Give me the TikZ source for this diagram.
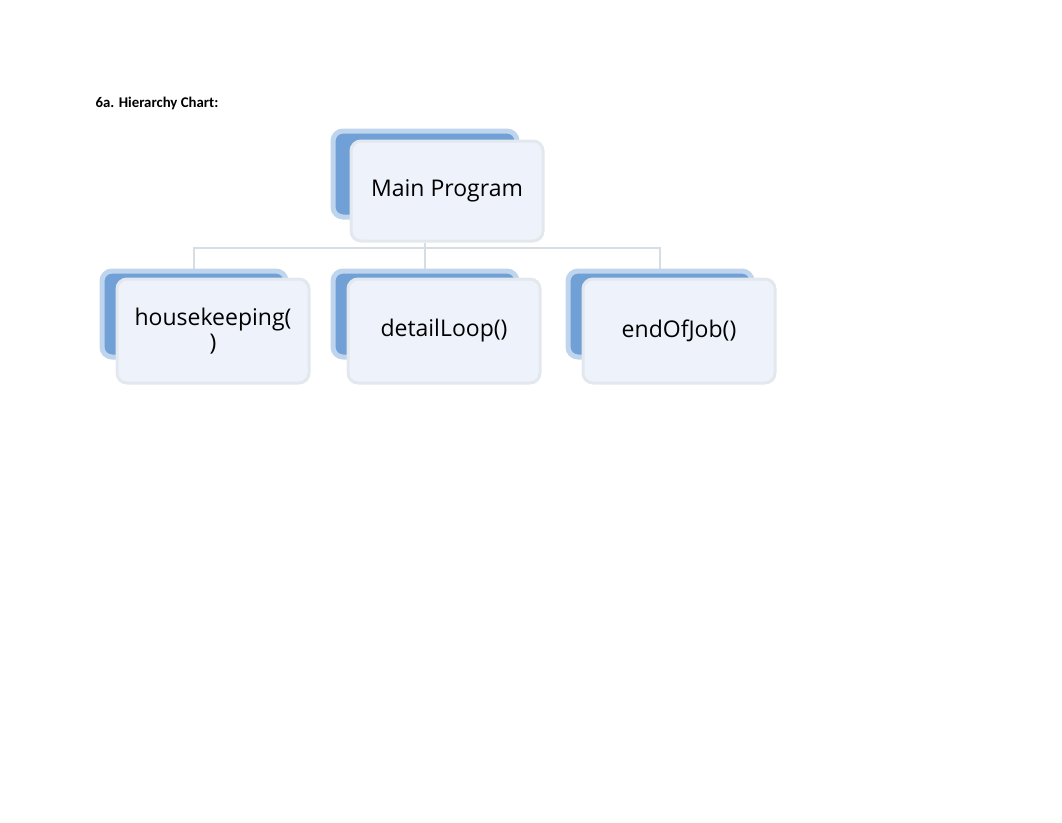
\documentclass[tikz,border=0pt]{standalone}
\usepackage{fontspec}
\setmainfont{Open Sans}
\newfontfamily\titlefont{Carlito}
\usetikzlibrary{positioning}

\definecolor{frameblue}{RGB}{112,160,214}
\definecolor{boxfill}{RGB}{238,243,251}
\definecolor{boxedge}{RGB}{226,232,237}
\definecolor{linkgray}{RGB}{214,222,228}

\begin{document}
\begin{tikzpicture}[x=1pt,y=-1pt,
  blueframe/.style={fill=frameblue, draw=frameblue!45, line width=5pt, rounded corners=10pt,
    minimum width=184pt, minimum height=86pt},
  lightbox/.style={fill=boxfill, draw=boxedge, line width=3pt, rounded corners=10pt,
    minimum width=192pt, minimum height=100pt, inner sep=2pt, align=center,
    font=\fontsize{23}{25}\selectfont},
  link/.style={draw=linkgray, line width=2pt}]
  \useasboundingbox (0,0) rectangle (1062,822);

  \node[font=\titlefont\bfseries\fontsize{14.8}{17}\selectfont] (title) at (157,103) {6a. Hierarchy Chart:};

  % top box
  \node[blueframe] (mainb) at (425,174) {};
  \node[lightbox] (main) at (447,191) {Main Program};

  % second level
  \foreach \x/\name/\txt in {194/house/{housekeeping(\\)}, 425/detail/{detailLoop()}, 660/eoj/{endOfJob()}} {
    \node[blueframe] (\name b) at (\x,314) {};
    \node[lightbox, minimum height=104pt] (\name) at (\x+19,331) {\txt};
  }

  % connectors
  \draw[link] (main.south -| mainb.south) -- ++(0,5) coordinate (bar);
  \foreach \name in {house,detail,eoj}
    \draw[link] (bar) -| (\name b.north);
\end{tikzpicture}
\end{document}
